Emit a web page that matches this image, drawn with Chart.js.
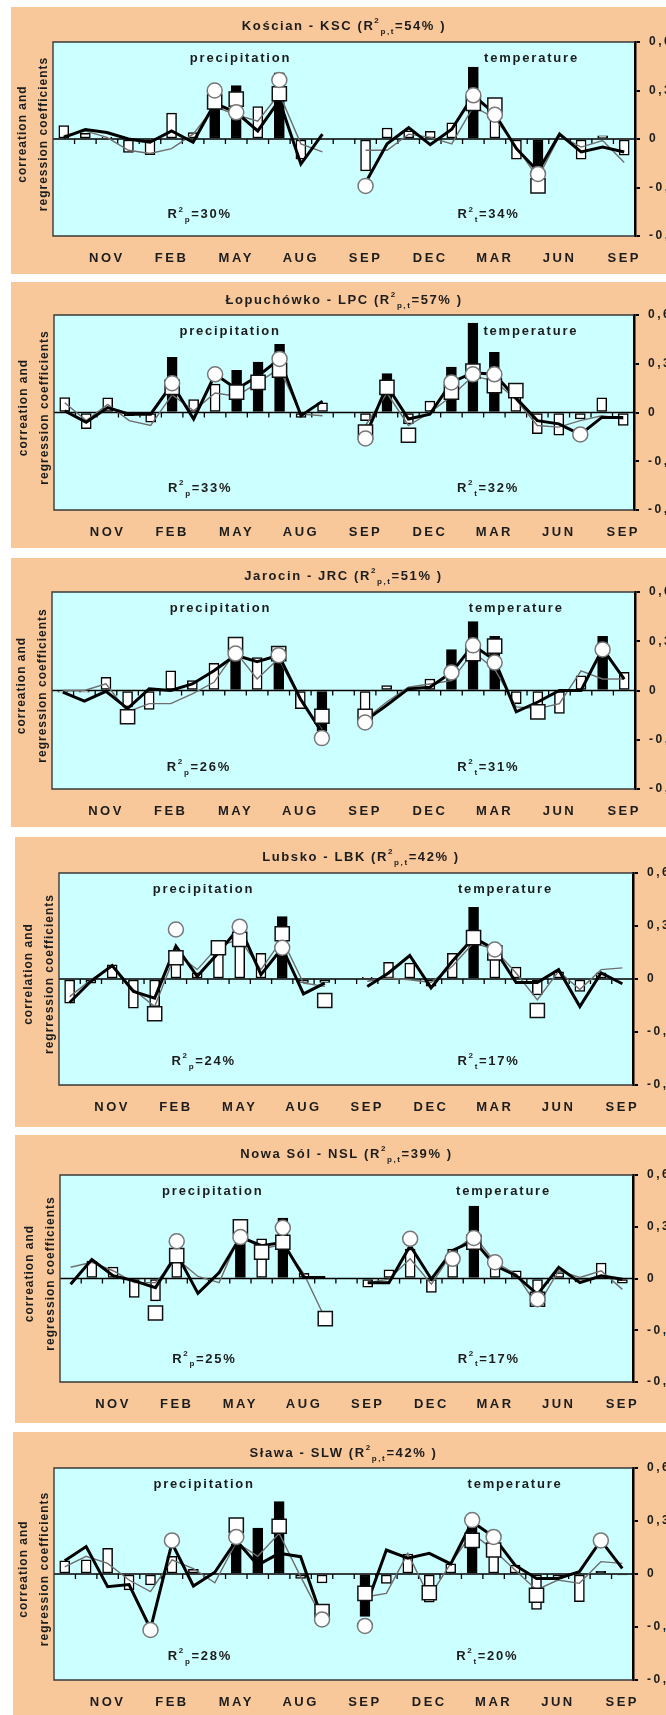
<!DOCTYPE html>
<html>
<head>
<meta charset="utf-8">
<script src="https://cdn.jsdelivr.net/npm/chart.js@4"></script>
<style>
  html, body { margin: 0; padding: 0; background: #fff; }
  body { width: 666px; height: 1715px; overflow: hidden; position: relative; }
  .panel { position: absolute; background: #f8c89b; }
  .panel canvas { display: block; }
</style>
</head>
<body>
<script>
// months: Sep..Sep precipitation, one empty slot, Sep..Sep temperature
const months = ['SEP','OCT','NOV','DEC','JAN','FEB','MAR','APR','MAY','JUN','JUL','AUG','SEP','',
                'SEP','OCT','NOV','DEC','JAN','FEB','MAR','APR','MAY','JUN','JUL','AUG','SEP'];
const yTicks = [-0.6, -0.3, 0, 0.3, 0.6];

// Kościan
const kscBars = [0.083, 0.035, 0.01, -0.083, -0.097, 0.16, 0.04, 0.2, 0.33, 0.2, 0.41, -0.124, null, null,
                 -0.197, 0.068, 0.05, 0.048, 0.10, 0.445, 0.2, -0.124, -0.25, null, -0.124, 0.02, -0.1];
const kscBlack = [7, 8, 10, 19, 22];
const kscThick = [0.01, 0.058, 0.04, 0, -0.02, 0.05, -0.02, 0.22, 0.165, 0.05, 0.24, -0.155, 0.03, null,
                  -0.27, -0.03, 0.07, -0.035, 0.06, 0.27, 0.155, -0.06, -0.2, 0.03, -0.08, -0.05, -0.08];
const kscThin = [0.02, 0.05, 0.01, -0.07, -0.09, -0.06, 0.03, 0.2, 0.15, 0.11, 0.28, -0.03, -0.08, null,
                 -0.07, -0.07, 0.03, 0.01, -0.03, 0.2, 0.13, -0.05, -0.24, 0.02, -0.05, -0.01, -0.145];
const kscCircles = [[7, 0.30], [8, 0.165], [10, 0.365], [14, -0.29], [19, 0.27], [20, 0.15], [22, -0.216]];
const kscSquares = [[7, 0.23], [8, 0.247], [10, 0.28], [19, 0.22], [20, 0.21], [22, -0.29]];

// Łopuchówko
const lpcBars = [0.092, -0.1, 0.09, -0.02, -0.06, 0.34, 0.08, 0.175, 0.26, 0.31, 0.42, -0.03, 0.06, null,
                 -0.05, 0.24, -0.07, 0.07, 0.28, 0.55, 0.37, 0.17, -0.13, -0.14, -0.04, 0.09, -0.08];
const lpcBlack = [5, 8, 9, 10, 15, 18, 19, 20];
const lpcThick = [0.01, -0.06, 0.03, -0.01, -0.01, 0.175, -0.04, 0.235, 0.145, 0.225, 0.33, -0.02, 0.07, null,
                  -0.145, 0.165, -0.04, -0.01, 0.185, 0.245, 0.235, 0.09, -0.05, -0.07, -0.135, -0.03, -0.03];
const lpcThin = [0.06, -0.05, 0.05, -0.05, -0.08, 0.11, 0.01, 0.12, 0.10, 0.185, 0.27, -0.01, -0.02, null,
                 -0.08, 0.12, -0.08, 0, 0.1, 0.225, 0.195, 0.08, -0.08, -0.09, -0.05, -0.02, -0.04];
const lpcCircles = [[5, 0.18], [7, 0.235], [10, 0.33], [14, -0.16], [18, 0.185], [19, 0.235], [20, 0.235], [24, -0.135]];
const lpcSquares = [[5, 0.155], [8, 0.125], [9, 0.185], [10, 0.26], [14, -0.12], [15, 0.155], [16, -0.14],
                    [18, 0.125], [19, 0.255], [20, 0.165], [21, 0.135]];

// Jarocin
const jrcBars = [-0.01, -0.01, 0.08, -0.1, -0.115, 0.12, 0.06, 0.165, 0.2, 0.2, 0.23, -0.11, -0.25, null,
                 -0.17, 0.03, null, 0.07, 0.25, 0.42, 0.33, -0.08, -0.17, -0.14, 0.09, 0.33, 0.11];
const jrcBlack = [8, 10, 12, 18, 19, 20, 25];
const jrcThick = [-0.01, -0.065, -0.005, -0.11, 0.01, 0, 0.04, 0.12, 0.215, 0.175, 0.215, -0.05, -0.255, null,
                  -0.185, -0.09, 0.01, 0.02, 0.11, 0.275, 0.185, -0.13, -0.07, 0, 0, 0.255, 0.07];
const jrcThin = [0, 0, 0.04, -0.13, -0.08, -0.08, -0.02, 0.05, 0.235, 0.07, 0.195, -0.06, -0.235, null,
                 -0.175, -0.07, 0.02, 0.04, 0.06, 0.235, 0.13, -0.1, -0.11, -0.08, 0.12, 0.07, 0.07];
const jrcCircles = [[8, 0.225], [10, 0.215], [12, -0.29], [14, -0.195], [18, 0.11], [19, 0.275], [20, 0.17], [25, 0.25]];
const jrcSquares = [[3, -0.16], [8, 0.28], [10, 0.225], [12, -0.157], [14, -0.157], [19, 0.225], [20, 0.27], [22, -0.13]];

// Lubsko
const lbkBars = [-0.137, -0.023, 0.08, -0.165, -0.156, 0.09, 0.035, 0.19, 0.24, 0.145, 0.353, -0.02, -0.02, null,
                 0.01, 0.095, 0.09, -0.04, 0.145, 0.405, 0.15, 0.067, -0.09, 0.04, -0.07, 0.035, null];
const lbkBlack = [10, 19];
const lbkThick = [-0.133, -0.013, 0.076, -0.07, -0.108, 0.186, 0.015, 0.148, 0.296, 0.025, 0.177, -0.084, -0.023, null,
                  -0.042, 0.034, 0.133, -0.05, 0.1, 0.234, 0.167, -0.02, -0.02, 0.053, -0.156, 0.034, -0.027];
const lbkThin = [-0.1, -0.004, 0.072, -0.06, -0.156, 0.148, 0.053, 0.186, 0.224, 0.053, 0.224, -0.023, -0.042, null,
                 -0.013, 0.006, -0.004, -0.02, 0.072, 0.205, 0.167, 0.034, -0.118, 0.044, -0.06, 0.053, 0.063];
const lbkCircles = [[5, 0.28], [8, 0.296], [10, 0.177], [20, 0.167]];
const lbkSquares = [[4, -0.197], [5, 0.12], [7, 0.177], [8, 0.224], [10, 0.256], [12, -0.122], [19, 0.234], [20, 0.148], [22, -0.178]];

// Nowa Sól
const nslBars = [null, 0.1, 0.066, -0.11, -0.13, 0.15, null, null, 0.21, 0.23, 0.35, 0.03, null, null,
                 -0.05, 0.05, 0.17, -0.08, 0.17, 0.42, 0.1, 0.045, -0.12, 0.035, -0.02, 0.09, -0.027];
const nslBlack = [8, 10, 19];
const nslThick = [-0.033, 0.11, 0.016, -0.014, -0.053, 0.143, -0.086, 0.035, 0.24, 0.19, 0.21, 0.006, 0.006, null,
                  -0.024, -0.024, 0.19, -0.004, 0.163, 0.22, 0.075, 0.016, -0.092, 0.065, -0.024, 0.016, -0.004];
const nslThin = [0.065, 0.094, 0.045, -0.024, -0.024, 0.114, 0.012, -0.024, 0.26, 0.17, 0.2, 0.025, -0.233, null,
                 -0.024, -0.004, 0.114, -0.033, 0.153, 0.25, 0.094, 0.025, -0.16, 0.045, 0.006, 0.045, -0.063];
const nslCircles = [[5, 0.216], [8, 0.24], [10, 0.294], [16, 0.23], [18, 0.114], [19, 0.235], [20, 0.094], [22, -0.12]];
const nslSquares = [[4, -0.2], [5, 0.133], [8, 0.3], [9, 0.153], [10, 0.21], [12, -0.233], [19, 0.21], [22, -0.12]];

// Sława
const slwBars = [0.075, 0.08, 0.145, -0.09, -0.062, 0.1, 0.026, null, 0.17, 0.26, 0.41, -0.025, -0.05, null,
                 -0.24, -0.053, 0.113, -0.16, 0.057, 0.29, 0.13, 0.05, -0.2, -0.025, -0.157, 0.015, -0.005];
const slwBlack = [8, 9, 10, 14, 19, 25, 26];
const slwThick = [0.075, 0.155, -0.072, -0.06, -0.31, 0.175, -0.068, 0.01, 0.19, 0.05, 0.117, 0.098, -0.25, null,
                  -0.2, 0.136, 0.09, 0.117, 0.057, 0.296, 0.21, 0.05, -0.025, -0.025, 0.013, 0.19, 0.032];
const slwThin = [0.04, 0.1, 0.06, -0.034, -0.1, 0.08, 0.03, -0.05, 0.18, 0.1, 0.23, -0.015, -0.25, null,
                 -0.13, -0.11, 0.117, -0.13, 0.06, 0.23, 0.136, 0.023, -0.09, -0.034, -0.053, 0.07, 0.06];
const slwCircles = [[4, -0.317], [5, 0.19], [8, 0.21], [12, -0.257], [14, -0.294], [19, 0.305], [20, 0.21], [25, 0.19]];
const slwSquares = [[8, 0.277], [10, 0.27], [12, -0.213], [14, -0.11], [17, -0.106], [19, 0.19], [20, 0.136], [22, -0.12]];

const FONT = '"Liberation Sans", Arial, sans-serif';
const INK = '#1c1c1c';

// box: [left, top, bottom] of the tan panel; plot: [left, right, top, bottom] of the cyan area
const panels = [
  { name: 'Kościan - KSC', r2: '54', r2p: '30', r2t: '34', yTitle: ['correation and', 'regression coefficients'],
    bars: kscBars, black: kscBlack, thick: kscThick, thin: kscThin, circles: kscCircles, squares: kscSquares,
    box: [11, 7, 274], plot: [53, 635, 42, 236], titleDy: 17, titleDx: 0, precipAt: 8.2, tempAt: 21.7 },
  { name: 'Łopuchówko - LPC', r2: '57', r2p: '33', r2t: '32', yTitle: ['correation and', 'regression coefficients'],
    bars: lpcBars, black: lpcBlack, thick: lpcThick, thin: lpcThin, circles: lpcCircles, squares: lpcSquares,
    box: [11, 282, 548], plot: [54, 634, 315, 510], titleDy: 16, titleDx: 0, precipAt: 7.7, tempAt: 21.7 },
  { name: 'Jarocin - JRC', r2: '51', r2p: '26', r2t: '31', yTitle: ['correation and', 'regression coefficients'],
    bars: jrcBars, black: jrcBlack, thick: jrcThick, thin: jrcThin, circles: jrcCircles, squares: jrcSquares,
    box: [11, 558, 827], plot: [52, 635, 592, 789], titleDy: 17, titleDx: 0, precipAt: 7.3, tempAt: 21.0 },
  { name: 'Lubsko - LBK', r2: '42', r2p: '24', r2t: '17', yTitle: ['correlation and', 'regrression coefficients'],
    bars: lbkBars, black: lbkBlack, thick: lbkThick, thin: lbkThin, circles: lbkCircles, squares: lbkSquares,
    box: [15, 837, 1127], plot: [59, 633, 873, 1085], titleDy: 17, titleDx: 15, precipAt: 6.3, tempAt: 20.5 },
  { name: 'Nowa Sól - NSL', r2: '39', r2p: '25', r2t: '17', yTitle: ['correation and', 'regression coefficients'],
    bars: nslBars, black: nslBlack, thick: nslThick, thin: nslThin, circles: nslCircles, squares: nslSquares,
    box: [15, 1135, 1423], plot: [60, 633, 1175, 1382], titleDy: 22, titleDx: 0, precipAt: 6.7, tempAt: 20.4 },
  { name: 'Sława - SLW', r2: '42', r2p: '28', r2t: '20', yTitle: ['correation and', 'regression coefficients'],
    bars: slwBars, black: slwBlack, thick: slwThick, thin: slwThin, circles: slwCircles, squares: slwSquares,
    box: [13, 1432, 1715], plot: [54, 633, 1468, 1680], titleDy: 16, titleDx: 0, precipAt: 6.5, tempAt: 21.0 }
];

function spread(pairs) {
  const a = months.map(() => null);
  pairs.forEach(([i, v]) => { a[i] = v; });
  return a;
}

// text with superscript (1) and subscript (-1) pieces, centred on cx
function drawRich(ctx, segs, cx, cy, size, spacing) {
  ctx.save();
  ctx.letterSpacing = spacing + 'px';
  ctx.textAlign = 'left';
  ctx.textBaseline = 'alphabetic';
  ctx.fillStyle = INK;
  const parts = segs.map(([t, mode]) => {
    const fs = mode ? Math.round(size * 0.62) : size;
    ctx.font = 'bold ' + fs + 'px ' + FONT;
    return { t, mode, fs, w: ctx.measureText(t).width };
  });
  const total = parts.reduce((s, q) => s + q.w, 0);
  let x = cx - total / 2;
  const base = cy + size * 0.36;
  parts.forEach(q => {
    ctx.font = 'bold ' + q.fs + 'px ' + FONT;
    const dy = q.mode > 0 ? -size * 0.5 : (q.mode < 0 ? size * 0.3 : 0);
    ctx.fillText(q.t, x, base + dy);
    x += q.w;
  });
  ctx.restore();
}

function deco(p) {
  return {
    id: 'deco',
    beforeDraw(chart) {
      const { ctx, chartArea: a } = chart;
      ctx.save();
      ctx.fillStyle = '#ccffff';
      ctx.fillRect(a.left, a.top, a.right - a.left, a.bottom - a.top);
      ctx.restore();
      ctx.letterSpacing = '2.5px';
    },
    beforeDatasetsDraw(chart) {
      const { ctx, chartArea: a, scales } = chart;
      const y0 = scales.y.getPixelForValue(0);
      ctx.save();
      ctx.letterSpacing = '0px';
      ctx.strokeStyle = '#000';
      ctx.lineWidth = 1.3;
      ctx.beginPath();
      ctx.moveTo(a.left, y0);
      ctx.lineTo(a.right, y0);
      for (let k = 1; k < months.length; k++) {
        const x = (scales.x.getPixelForValue(k - 1) + scales.x.getPixelForValue(k)) / 2;
        ctx.moveTo(x, y0);
        ctx.lineTo(x, y0 + 5);
      }
      ctx.stroke();
      ctx.restore();
    },
    afterDraw(chart) {
      const { ctx, chartArea: a, scales } = chart;
      ctx.save();
      ctx.strokeStyle = '#3a3a3a';
      ctx.lineWidth = 1.4;
      ctx.beginPath();
      ctx.moveTo(a.right, a.top);
      ctx.lineTo(a.left, a.top);
      ctx.lineTo(a.left, a.bottom);
      ctx.lineTo(a.right, a.bottom);
      ctx.stroke();
      ctx.restore();

      const cx = (a.left + a.right) / 2;
      drawRich(ctx, [[p.name + ' (R', 0], ['2', 1], ['p,t', -1], ['=' + p.r2 + '% )', 0]],
               cx + p.titleDx, a.top - p.titleDy, 13, 1.6);

      const yTop = a.top + 15;
      drawRich(ctx, [['precipitation', 0]], scales.x.getPixelForValue(p.precipAt), yTop, 13, 1.8);
      drawRich(ctx, [['temperature', 0]], scales.x.getPixelForValue(p.tempAt), yTop, 13, 1.8);

      const yR = scales.y.getPixelForValue(-0.46);
      drawRich(ctx, [['R', 0], ['2', 1], ['p', -1], ['=' + p.r2p + '%', 0]], scales.x.getPixelForValue(6.3), yR, 13, 1.7);
      drawRich(ctx, [['R', 0], ['2', 1], ['t', -1], ['=' + p.r2t + '%', 0]], scales.x.getPixelForValue(19.7), yR, 13, 1.7);

      // rotated axis title, two lines
      ctx.save();
      ctx.translate(a.left, (a.top + a.bottom) / 2 - 5);
      ctx.rotate(-Math.PI / 2);
      ctx.letterSpacing = '1px';
      ctx.font = 'bold 12px ' + FONT;
      ctx.fillStyle = INK;
      ctx.textAlign = 'center';
      ctx.textBaseline = 'middle';
      ctx.fillText(p.yTitle[0], 0, -30);
      ctx.fillText(p.yTitle[1], 0, -9);
      ctx.restore();
    }
  };
}

panels.forEach(p => {
  const W = 666 - p.box[0];
  const H = p.box[2] - p.box[1];
  const div = document.createElement('div');
  div.className = 'panel';
  div.style.left = p.box[0] + 'px';
  div.style.top = p.box[1] + 'px';
  div.style.width = W + 'px';
  div.style.height = H + 'px';
  const cv = document.createElement('canvas');
  cv.width = W;
  cv.height = H;
  div.appendChild(cv);
  document.body.appendChild(div);

  new Chart(cv, {
    type: 'bar',
    data: {
      labels: months,
      datasets: [
        { type: 'bar', data: p.bars,
          backgroundColor: p.bars.map((v, i) => p.black.includes(i) ? '#000' : '#fff'),
          borderColor: '#000', borderWidth: 1.5, borderSkipped: false, barThickness: 10, order: 5 },
        { type: 'line', data: p.thin, borderColor: '#6e6e6e', borderWidth: 1.4, pointRadius: 0, tension: 0, order: 4 },
        { type: 'line', data: p.thick, borderColor: '#000', borderWidth: 3, pointRadius: 0, tension: 0, order: 3 },
        { type: 'line', data: spread(p.squares), showLine: false, pointStyle: 'rect', pointRadius: 10,
          pointBackgroundColor: '#fff', pointBorderColor: '#111', pointBorderWidth: 1.5, order: 2 },
        { type: 'line', data: spread(p.circles), showLine: false, pointStyle: 'circle', pointRadius: 7.5,
          pointBackgroundColor: '#fff', pointBorderColor: '#777', pointBorderWidth: 1.5, order: 1 }
      ]
    },
    options: {
      responsive: false,
      animation: false,
      devicePixelRatio: 1,
      events: [],
      layout: { padding: { left: p.plot[0] - p.box[0], top: p.plot[2] - p.box[1], right: 0, bottom: 0 } },
      plugins: { legend: { display: false }, tooltip: { enabled: false } },
      scales: {
        x: {
          offset: true,
          grid: { display: false, drawTicks: false },
          border: { display: false },
          ticks: {
            autoSkip: false, maxRotation: 0, minRotation: 0, padding: 15, color: INK,
            font: { family: FONT, size: 13, weight: 'bold' },
            callback: (v, i) => (i % 3 === 2 ? months[i] : '')
          },
          afterFit: s => { s.height = p.box[2] - p.plot[3]; }
        },
        y: {
          position: 'right',
          min: -0.6,
          max: 0.6,
          afterBuildTicks: s => { s.ticks = yTicks.map(v => ({ value: v })); },
          grid: { drawOnChartArea: false, drawTicks: true, tickLength: 5, color: '#000', lineWidth: 2 },
          border: { display: true, color: '#000', width: 2.5 },
          ticks: {
            padding: 9, color: INK, font: { family: FONT, size: 12, weight: 'bold' },
            callback: v => (v === 0 ? '0' : String(v).replace('.', ','))
          },
          afterFit: s => { s.width = 666 - p.plot[1]; }
        }
      }
    },
    plugins: [deco(p)]
  });
});
</script>
</body>
</html>
